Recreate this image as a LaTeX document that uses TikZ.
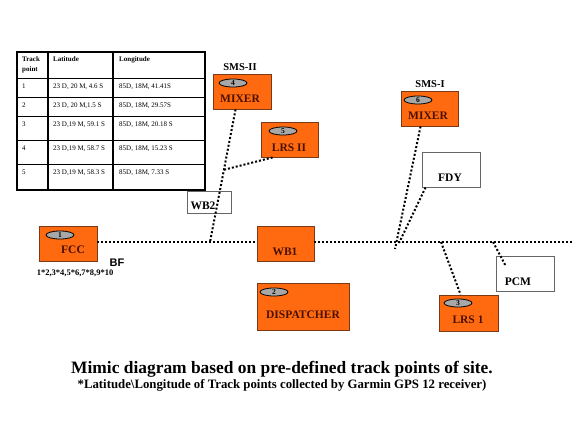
\documentclass[tikz,border=0pt]{standalone}
\usepackage{fontspec}
\setmainfont{Liberation Serif}
\setsansfont{Liberation Sans}
\usetikzlibrary{shapes.geometric, positioning, calc}

\definecolor{unitfill}{HTML}{FF6A10}
\definecolor{unitedge}{HTML}{7A3A18}
\definecolor{unittext}{HTML}{4A1000}
\definecolor{tagfill}{HTML}{A8A8A8}

\begin{document}
\begin{tikzpicture}[
    x=1pt, y=-1pt,
    unit/.style={draw=unitedge, fill=unitfill, line width=0.9pt, rectangle, inner sep=0pt},
    plain unit/.style={draw=black!60, fill=white, line width=0.9pt, rectangle, inner sep=0pt},
    tag/.style={draw, ellipse, fill=tagfill, line width=0.8pt, minimum width=28pt, minimum height=8pt, inner sep=0pt, font=\fontsize{7.5}{7.5}\selectfont\bfseries},
    unit label/.style={font=\fontsize{11.5}{11.5}\selectfont\bfseries, text=unittext, inner sep=0pt},
    plain label/.style={font=\fontsize{11.5}{11.5}\selectfont\bfseries, inner sep=0pt},
    site/.style={font=\fontsize{10.5}{10.5}\selectfont\bfseries, inner sep=0pt},
    link/.style={line width=2pt, dash pattern=on 2pt off 2pt},
    cell/.style={anchor=base west, inner sep=0pt, font=\fontsize{7}{8}\selectfont}
]
    \useasboundingbox (0,0) rectangle (575,444);

    % ================= TRACK POINT TABLE =================
    \draw[line width=1.6pt] (17,52) rectangle (205,190);
    \foreach \cx in {48,113}
        \draw[line width=1.6pt] (\cx,52) -- (\cx,190);
    \foreach \ry in {78,97,116,140,164}
        \draw[line width=0.9pt] (17,\ry) -- (205,\ry);

    \node[cell, font=\fontsize{7}{8}\selectfont\bfseries] (HTP) at (22,61) {Track};
    \node[cell, font=\fontsize{7}{8}\selectfont\bfseries] (HPT) at (22,71) {point};
    \node[cell, font=\fontsize{7}{8}\selectfont\bfseries] (HLAT) at (53,61) {Latitude};
    \node[cell, font=\fontsize{7}{8}\selectfont\bfseries] (HLON) at (119,61) {Longitude};
    \foreach \n/\ry/\lat/\lon in {1/88/{23 D, 20 M, 4.6 S}/{85D, 18M, 41.41S},
                                  2/107/{23 D, 20 M,1.5 S}/{85D, 18M, 29.57S},
                                  3/126/{23 D,19 M, 59.1 S}/{85D, 18M, 20.18 S},
                                  4/150/{23 D,19 M, 58.7 S}/{85D, 18M, 15.23 S},
                                  5/174/{23 D,19 M, 58.3 S}/{85D, 18M, 7.33 S}} {
        \node[cell] (TP\n) at (22,\ry) {\n};
        \node[cell] (LAT\n) at (53,\ry) {\lat};
        \node[cell] (LON\n) at (119,\ry) {\lon};
    }

    % ================= UNITS =================
    \node[unit, minimum width=58pt, minimum height=35pt] (FCC) at (68,243.5) {};
    \node[tag] (T1) at (60,235) {1};
    \node[unit label] (LFCC) at (73,250) {FCC};

    \node[unit, minimum width=57pt, minimum height=35pt] (WB1) at (285.5,243.5) {};
    \node[unit label] (LWB1) at (285,252) {WB1};

    \node[unit, minimum width=92pt, minimum height=47pt] (DISP) at (303,306.5) {};
    \node[tag] (T2) at (274,292) {2};
    \node[unit label] (LDISP) at (303,315) {DISPATCHER};

    \node[unit, minimum width=58pt, minimum height=35pt] (MIX4) at (242,91.5) {};
    \node[tag] (T4) at (233,83) {4};
    \node[unit label] (LMIX4) at (240,99) {MIXER};
    \node[site] (SMS2) at (240,67) {SMS-II};

    \node[unit, minimum width=57pt, minimum height=35pt] (LRS2) at (289.5,139.5) {};
    \node[tag] (T5) at (283,131) {5};
    \node[unit label] (LLRS2) at (289,148) {LRS II};

    \node[unit, minimum width=57pt, minimum height=35pt] (MIX6) at (429.5,108.5) {};
    \node[tag] (T6) at (418,100) {6};
    \node[unit label] (LMIX6) at (428,116) {MIXER};
    \node[site] (SMS1) at (430,84) {SMS-I};

    \node[unit, minimum width=59pt, minimum height=36pt] (LRS1) at (468.5,313) {};
    \node[tag] (T3) at (458,303) {3};
    \node[unit label] (LLRS1) at (468,320) {LRS 1};

    \node[plain unit, minimum width=44pt, minimum height=22pt] (WB2) at (209,202) {};
    \node[plain label] (LWB2) at (203,206) {WB2};

    \node[plain unit, minimum width=58pt, minimum height=35pt] (FDY) at (451,169.5) {};
    \node[plain label] (LFDY) at (450,178) {FDY};

    \node[plain unit, minimum width=58pt, minimum height=35pt] (PCM) at (525,273.5) {};
    \node[plain label] (LPCM) at (518,282) {PCM};

    % ================= JUNCTIONS =================
    \coordinate (J2) at (210,242);
    \coordinate (JB) at (223,170);
    \coordinate (J6) at (395,249);
    \coordinate (JF) at (399,243);
    \coordinate (J3) at (441,242);
    \coordinate (JP) at (493,242);
    \coordinate (END) at (572,242);

    % ================= CONNECTIONS =================
    \draw[link] (FCC.east |- J2) -- (WB1.west |- J2);
    \draw[link] (WB1.east |- J2) -- (END);
    \draw[link] ([xshift=23pt]MIX4.south west) -- (J2);
    \draw[link] ([xshift=12pt]LRS2.south west) -- (JB);
    \draw[link] ([xshift=20pt]MIX6.south west) -- (J6);
    \draw[link] ([xshift=4pt]FDY.south west) -- (JF);
    \draw[link] (J3) -- ([xshift=22pt]LRS1.north west);
    \draw[link] (JP) -- ([xshift=10pt,yshift=-10pt]PCM.north west);

    % ================= NOTES =================
    \node[font=\fontsize{11}{11}\selectfont\sffamily\bfseries, inner sep=0pt] (BF) at (117,263) {BF};
    \node[font=\fontsize{8.5}{8.5}\selectfont\bfseries, inner sep=0pt] (PAIRS) at (75,273) {1*2,3*4,5*6,7*8,9*10};

    \node[font=\fontsize{17.4}{17.4}\selectfont\bfseries, inner sep=0pt] (TITLE) at (282,369) {Mimic diagram based on pre-defined track points of site.};
    \node[font=\fontsize{12.8}{12.8}\selectfont\bfseries, inner sep=0pt] (NOTE) at (282,385) {*Latitude\textbackslash Longitude of Track points collected by Garmin GPS 12 receiver)};

\end{tikzpicture}
\end{document}
